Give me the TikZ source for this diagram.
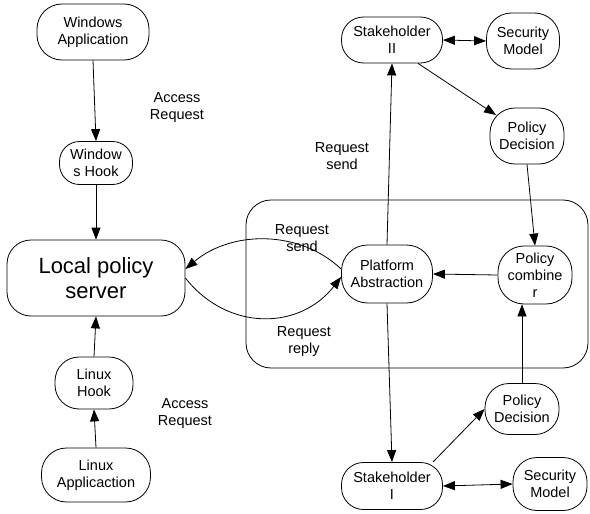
\documentclass[tikz,border=0pt]{standalone}
\usepackage{fontspec}
\setmainfont{Liberation Sans}
\usetikzlibrary{arrows.meta,calc}
\begin{document}
\begin{tikzpicture}[x=1pt,y=-1pt, line width=0.8pt,
  box/.style={draw, rounded corners=#1, align=center, inner sep=0pt,
    font=\fontsize{14.5}{17}\selectfont},
  box/.default=22pt,
  lbl/.style={align=center, inner sep=0pt, font=\fontsize{14.5}{17}\selectfont},
  arr/.style={-{Triangle[length=12pt,width=9pt]}},
  darr/.style={{Triangle[length=12pt,width=9pt]}-{Triangle[length=12pt,width=9pt]}}]
\useasboundingbox (0,0) rectangle (590,514);

% container
\draw[rounded corners=25pt] (246,200) rectangle (588,368);

% left column
\node[box=25pt, minimum width=112pt, minimum height=56pt] (wa) at (93,32) {Windows\\Application};
\node[box=20pt, minimum width=73pt, minimum height=43pt] (wh) at (96,163) {Window\\s Hook};
\node[box=24pt, minimum width=178pt, minimum height=76pt, font=\fontsize{22}{25}\selectfont] (lps) at (96,278) {Local policy\\server};
\node[box=24pt, minimum width=78pt, minimum height=52pt] (lh) at (94,383) {Linux\\Hook};
\node[box=25pt, minimum width=109pt, minimum height=54pt] (la) at (96,475) {Linux\\Applicaction};

% right side
\node[box=22pt, minimum width=101pt, minimum height=46pt] (sh2) at (392,40) {Stakeholder\\II};
\node[box=25pt, minimum width=73pt, minimum height=56pt] (smt) at (523,41) {Security\\Model};
\node[box=25pt, minimum width=74pt, minimum height=56pt] (pdt) at (527,136) {Policy\\Decision};
\node[box=26pt, minimum width=91pt, minimum height=58pt] (pa) at (387,274) {Platform\\Abstraction};
\node[box=26pt, minimum width=74pt, minimum height=58pt] (pc) at (535,275) {Policy\\combine\\r};
\node[box=24pt, minimum width=74pt, minimum height=51pt] (pdb) at (522,409) {Policy\\Decision};
\node[box=22pt, minimum width=101pt, minimum height=47pt] (sh1) at (392,486) {Stakeholder\\I};
\node[box=24pt, minimum width=74pt, minimum height=53pt] (smb) at (550,484) {Security\\Model};

% labels
\node[lbl] (l1) at (177,108) {Access\\Request};
\node[lbl] (l2) at (185,414) {Access\\Request};
\node[lbl] (l3) at (342,156) {Request\\send};
\node[lbl] (l4) at (302,238) {Request\\send};
\node[lbl] (l5) at (304,342) {Request\\reply};

% left arrows
\draw[arr] (wa.south) -- (wh.north);
\draw[arr] (wh.south) -- (lps.north);
\draw[arr] (lh.north) -- (lps.south);
\draw[arr] (la.north) -- (lh.south);

% curves
\draw[arr] ($(pa.west)+(0,-5)$) .. controls (300,230) and (232,230) .. ($(lps.east)+(0,-9)$);
\draw[arr] (lps.east) .. controls (228,332) and (300,330) .. ($(pa.west)+(0,3)$);

% right arrows
\draw[darr] (sh2.east) -- (smt.west);
\draw[arr] ($(sh2.south)+(26,0)$) -- ($(pdt.center)+(-31,-21)$);
\draw[arr] (pdt.south) -- (pc.north);
\draw[arr] (pc.west) -- (pa.east);
\draw[arr] (pa.north) -- (sh2.south);
\draw[arr] (pa.south) -- (sh1.north);
\draw[arr] ($(sh1.center)+(41,-24)$) -- (pdb.west);
\draw[arr] (pdb.north) -- (pdb.north |- pc.south);
\draw[darr] (sh1.east) -- (smb.west);
\end{tikzpicture}
\end{document}
